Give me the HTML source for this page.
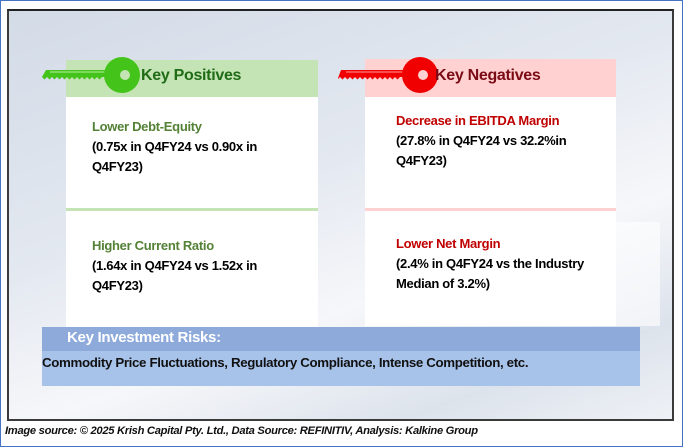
<!DOCTYPE html>
<html><head><meta charset="utf-8"><style>
*{margin:0;padding:0;box-sizing:border-box}
body{width:683px;height:447px;background:#fff;position:relative;overflow:hidden;font-family:"Liberation Sans",sans-serif}
.abs{position:absolute}
#outer{left:0;top:0;width:683px;height:447px;border:1px solid #4472c4}
#frame{left:7px;top:9px;width:667px;height:412px;border:2px solid #3a3a3a;border-top-color:#222;background:linear-gradient(160deg,#d3dbe7 0%,#e3e8f0 40%,#f6f7fa 65%,#dde3ec 85%,#eef1f6 100%)}
.box{background:#fff}
.t{font-weight:bold;font-size:13px;line-height:20px;letter-spacing:-0.3px}
.h{font-size:16px;font-weight:bold;letter-spacing:-0.3px}
</style></head><body>
<div id="outer" class="abs"></div>
<div id="frame" class="abs"></div>

<div class="abs" style="left:66px;top:60px;width:252px;height:37px;background:#c5e4b5"></div>
<div class="abs box" style="left:66px;top:97px;width:252px;height:111px"></div>
<div class="abs" style="left:66px;top:208px;width:252px;height:3px;background:#c5e4b5"></div>
<div class="abs box" style="left:66px;top:211px;width:252px;height:116px"></div>

<div class="abs" style="left:365px;top:59px;width:251px;height:38px;background:#ffd1d1"></div>
<div class="abs box" style="left:365px;top:97px;width:251px;height:111px"></div>
<div class="abs" style="left:365px;top:208px;width:251px;height:3px;background:#ffd1d1"></div>
<div class="abs box" style="left:365px;top:211px;width:251px;height:115px"></div>
<div class="abs" style="left:616px;top:222px;width:44px;height:104px;background:rgba(255,255,255,0.6)"></div>

<svg class="abs" style="left:40px;top:55px" width="100" height="40">
<path d="M6 15 H70 V22 H62 l-2.5 2.5 -2.5-2.5 -2.5 2.5 -2.5-2.5 -2.5 2.5 -2.5-2.5 -2.5 2.5 -2.5-2.5 -2.5 2.5 -2.5-2.5 -2.5 2.5 -2.5-2.5 -2.5 2.5 -2.5-2.5 -2.5 2.5 -2.5-2.5 -2.5 2.5 -2.5-2.5 -2.5 2.5 -2.5-2.5 -2.5 2.5 -2.5-2.5 -2.5 2.5 -2.5-2.5 Z" fill="#44c31a"/>
<line x1="10" y1="17" x2="66" y2="17" stroke="#b8f0a0" stroke-width="1"/>
<circle cx="82" cy="20" r="18" fill="#44c31a"/><circle cx="85" cy="20" r="5" fill="#c5e4b5"/>
</svg>
<div class="abs h" style="left:141px;top:67px;color:#1f6b16">Key Positives</div>

<svg class="abs" style="left:338px;top:55px" width="100" height="40">
<path d="M3 15 H70 V22 H62 l-2.5 2.5 -2.5-2.5 -2.5 2.5 -2.5-2.5 -2.5 2.5 -2.5-2.5 -2.5 2.5 -2.5-2.5 -2.5 2.5 -2.5-2.5 -2.5 2.5 -2.5-2.5 -2.5 2.5 -2.5-2.5 -2.5 2.5 -2.5-2.5 -2.5 2.5 -2.5-2.5 -2.5 2.5 -2.5-2.5 -2.5 2.5 -2.5-2.5 -2.5 2.5 -2.5-2.5 -2.5 2.5 Z" fill="#f00000"/>
<line x1="8" y1="17" x2="66" y2="17" stroke="#ff9c9c" stroke-width="1"/>
<circle cx="82" cy="20" r="18" fill="#f00000"/><circle cx="85" cy="20" r="5" fill="#ffd1d1"/>
</svg>
<div class="abs h" style="left:435px;top:67px;color:#7a0a14">Key Negatives</div>

<div class="abs t" style="left:92px;top:117px;width:220px"><span style="color:#538135">Lower Debt-Equity</span><br>(0.75x in Q4FY24 vs 0.90x in<br>Q4FY23)</div>
<div class="abs t" style="left:92px;top:236px;width:220px"><span style="color:#538135">Higher Current Ratio</span><br>(1.64x in Q4FY24 vs 1.52x in<br>Q4FY23)</div>
<div class="abs t" style="left:396px;top:111px;width:220px"><span style="color:#c00000">Decrease in EBITDA Margin</span><br>(27.8% in Q4FY24 vs 32.2%in<br>Q4FY23)</div>
<div class="abs t" style="left:396px;top:234px;width:230px"><span style="color:#c00000">Lower Net Margin</span><br>(2.4% in Q4FY24 vs the Industry<br>Median of 3.2%)</div>

<div class="abs" style="left:42px;top:327px;width:598px;height:24px;background:#8eaadb"></div>
<div class="abs" style="left:42px;top:351px;width:598px;height:35px;background:#a8c3ea"></div>
<div class="abs" style="left:67px;top:329px;color:#fff;font-weight:bold;font-size:15px;letter-spacing:-0.3px">Key Investment Risks:</div>
<div class="abs" style="left:42px;top:355px;font-weight:bold;font-size:13.3px;letter-spacing:-0.35px;color:#111">Commodity Price Fluctuations, Regulatory Compliance, Intense Competition, etc.</div>

<div class="abs" style="left:5px;top:425px;font-style:italic;font-weight:bold;font-size:11.2px;letter-spacing:-0.3px;color:#111">Image source: © 2025 Krish Capital Pty. Ltd., Data Source: REFINITIV, Analysis: Kalkine Group</div>
</body></html>
